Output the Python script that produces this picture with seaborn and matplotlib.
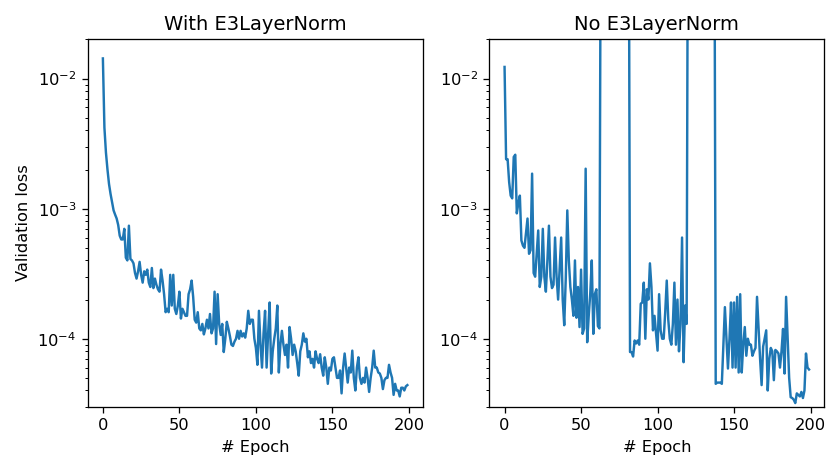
import matplotlib
matplotlib.use("Agg")
import matplotlib.pyplot as plt
import numpy as np
import seaborn as sns

# values (validation loss per epoch)
epochs = np.arange(200)

with_norm_loss = [
    1.43e-2, 4.2e-3, 2.7e-3, 2.0e-3, 1.55e-3, 1.3e-3, 1.12e-3, 9.7e-4, 9.0e-4, 8.4e-4,
    7.5e-4, 6.2e-4, 5.8e-4, 5.8e-4, 7.0e-4, 4.2e-4, 4.0e-4, 7.4e-4, 4.1e-4, 4.0e-4,
    3.8e-4, 3.2e-4, 2.9e-4, 3.3e-4, 3.9e-4, 3.1e-4, 2.7e-4, 3.3e-4, 3.1e-4, 3.4e-4,
    2.7e-4, 2.5e-4, 3.5e-4, 2.45e-4, 2.9e-4, 2.6e-4, 2.4e-4, 2.3e-4, 3.4e-4, 2.8e-4,
    2.2e-4, 1.6e-4, 1.7e-4, 1.6e-4, 3.1e-4, 1.8e-4, 3.1e-4, 1.7e-4, 1.55e-4, 1.8e-4,
    2.3e-4, 1.43e-4, 1.7e-4, 1.6e-4, 1.5e-4, 1.5e-4, 2.2e-4, 2.4e-4, 2.8e-4, 2.1e-4,
    1.4e-4, 1.33e-4, 1.6e-4, 1.2e-4, 1.16e-4, 1.3e-4, 1.08e-4, 1.2e-4, 1.4e-4, 1.2e-4,
    1.55e-4, 1.1e-4, 1.2e-4, 2.3e-4, 9.1e-5, 2.2e-4, 1.3e-4, 1.07e-4, 1.3e-4, 7.9e-5,
    1.0e-4, 1.35e-4, 1.2e-4, 1.05e-4, 9.0e-5, 8.8e-5, 9.5e-5, 1.0e-4, 1.15e-4, 1.0e-4,
    1.15e-4, 1.04e-4, 1.1e-4, 1.02e-4, 1.2e-4, 1.64e-4, 1.3e-4, 1.4e-4, 1.4e-4, 1.0e-4,
    8.5e-5, 6.3e-5, 1.64e-4, 9.0e-5, 6.0e-5, 1.1e-4, 1.64e-4, 6.0e-5, 1.1e-4, 1.9e-4,
    5.4e-5, 8.0e-5, 1.0e-4, 1.2e-4, 1.8e-4, 5.5e-5, 9.0e-5, 1.15e-4, 9.0e-5, 7.5e-5,
    9.0e-5, 6.0e-5, 1.23e-4, 1.0e-4, 7.5e-5, 9.0e-5, 8.0e-5, 6.5e-5, 5.2e-5, 8.0e-5,
    9.0e-5, 1.1e-4, 9.5e-5, 1.0e-4, 7.2e-5, 8.0e-5, 6.5e-5, 7.0e-5, 6.0e-5, 8.0e-5,
    7.0e-5, 6.5e-5, 7.6e-5, 6.0e-5, 5.2e-5, 7.2e-5, 6.0e-5, 4.5e-5, 6.0e-5, 5.7e-5,
    7.0e-5, 7.2e-5, 6.0e-5, 5.0e-5, 5.0e-5, 5.7e-5, 3.8e-5, 6.0e-5, 7.7e-5, 6.0e-5,
    4.6e-5, 6.0e-5, 5.5e-5, 8.1e-5, 5.0e-5, 4.0e-5, 6.0e-5, 7.2e-5, 5.0e-5, 4.5e-5,
    5.0e-5, 4.6e-5, 6.0e-5, 5.0e-5, 3.9e-5, 5.0e-5, 6.0e-5, 8.1e-5, 6.0e-5, 6.0e-5,
    5.5e-5, 5.4e-5, 5.0e-5, 4.1e-5, 4.8e-5, 5.0e-5, 5.0e-5, 6.3e-5, 5.5e-5, 5.0e-5,
    3.7e-5, 4.5e-5, 4.0e-5, 4.0e-5, 3.6e-5, 4.2e-5, 4.2e-5, 4.0e-5, 4.3e-5, 4.4e-5,
]

# epochs 63-81 and 120-137 blow up far above the plotted range
no_norm_loss = [
    1.23e-2, 2.4e-3, 2.4e-3, 1.6e-3, 1.26e-3, 1.2e-3, 2.5e-3, 2.6e-3, 9.2e-4, 1.1e-3,
    1.26e-3, 5.7e-4, 5.2e-4, 5.0e-4, 6.5e-4, 8.4e-4, 4.5e-4, 4.8e-4, 1.86e-3, 3.2e-4,
    3.0e-4, 4.5e-4, 6.8e-4, 2.5e-4, 3.0e-4, 7.0e-4, 3.0e-4, 2.3e-4, 4.0e-4, 7.4e-4,
    3.0e-4, 2.45e-4, 2.6e-4, 6.0e-4, 3.0e-4, 2.0e-4, 3.5e-4, 6.0e-4, 2.0e-4, 1.27e-4,
    2.9e-4, 9.7e-4, 4.0e-4, 2.5e-4, 2.0e-4, 1.5e-4, 4.0e-4, 1.45e-4, 2.5e-4, 1.23e-4,
    3.4e-4, 1.09e-4, 1.2e-4, 2.03e-3, 9.4e-5, 1.5e-4, 2.22e-4, 4.0e-4, 1.09e-4, 2.2e-4,
    2.4e-4, 1.25e-4, 1.2e-4, 0.8, 1.5, 0.6, 2.1, 0.9, 1.3, 0.7,
    1.8, 1.1, 0.5, 1.6, 0.9, 1.2, 2.4, 0.8, 1.4, 1.0,
    0.7, 1.9, 7.9e-5, 7.9e-5, 7.3e-5, 9.7e-5, 9.2e-5, 9.7e-5, 9.0e-5, 1.86e-4,
    1.9e-4, 2.7e-4, 1.0e-4, 2.4e-4, 2.0e-4, 3.8e-4, 2.5e-4, 1.16e-4, 1.5e-4, 1.1e-4,
    8.1e-5, 2.2e-4, 1.16e-4, 1.0e-4, 1.0e-4, 1.6e-4, 2.8e-4, 1.4e-4, 1.0e-4, 9.0e-5,
    1.3e-4, 2.7e-4, 9.0e-5, 2.0e-4, 8.0e-5, 1.3e-4, 6.0e-4, 6.6e-5, 1.8e-4, 1.3e-4,
    1.2, 0.8, 1.7, 0.9, 2.2, 1.1, 0.6, 1.5, 1.0, 1.9,
    0.7, 1.3, 2.0, 0.9, 1.4, 0.8, 1.6, 1.1, 4.5e-5, 4.6e-5,
    4.6e-5, 4.6e-5, 4.5e-5, 9.0e-5, 1.75e-4, 1.0e-4, 5.9e-5, 1.0e-4, 1.9e-4, 6.0e-5,
    1.9e-4, 6.0e-5, 2.1e-4, 5.5e-5, 2.2e-4, 5.5e-5, 9.0e-5, 1.23e-4, 7.4e-5, 1.0e-4,
    9.0e-5, 9.0e-5, 7.4e-5, 8.0e-5, 8.5e-5, 2.1e-4, 1.2e-4, 7.0e-5, 4.4e-5, 8.7e-5,
    1.0e-4, 1.16e-4, 4.0e-5, 7.0e-5, 8.5e-5, 8.0e-5, 4.8e-5, 8.2e-5, 8.0e-5, 7.7e-5,
    6.0e-5, 8.0e-5, 1.19e-4, 5.4e-5, 2.1e-4, 1.0e-4, 5.0e-5, 3.55e-5, 3.5e-5, 3.4e-5,
    3.2e-5, 3.8e-5, 3.7e-5, 3.6e-5, 3.9e-5, 3.5e-5, 4.0e-5, 7.7e-5, 6.0e-5, 5.8e-5,
]

titles = ["With E3LayerNorm", "No E3LayerNorm"]
y_limits = (3e-5, 2e-2)

DPI = 117
fig = plt.figure(figsize=(827 / DPI, 457 / DPI), dpi=DPI)
ax_left = fig.add_axes([0.106, 0.110, 0.405, 0.8036])
ax_right = fig.add_axes([0.5917, 0.110, 0.405, 0.8036])

for ax, loss, title in zip([ax_left, ax_right], [with_norm_loss, no_norm_loss], titles):
    sns.lineplot(x=epochs, y=loss, color="#1f77b4", linewidth=1.5, estimator=None, ax=ax)
    ax.set_yscale("log")
    ax.set_ylim(*y_limits)
    ax.set_title(title)
    ax.set_xlabel("# Epoch")
    ax.set_ylabel("")

ax_left.set_ylabel("Validation loss")

fig.savefig("out.png", dpi=DPI)
plt.close(fig)
